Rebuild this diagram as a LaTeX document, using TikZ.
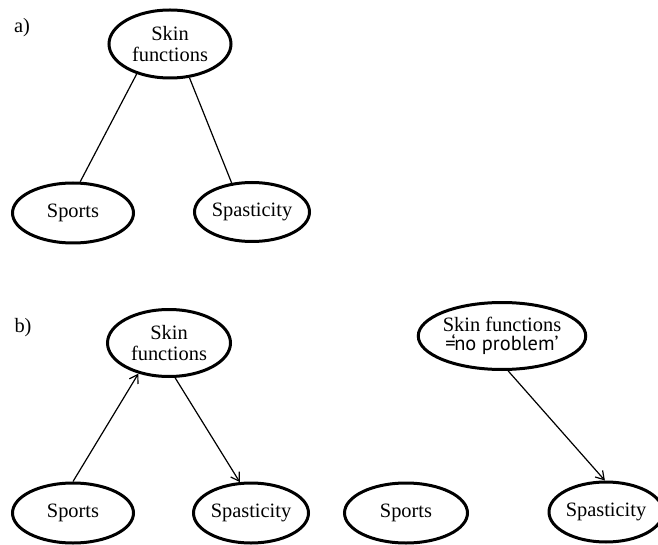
\documentclass[tikz,border=0pt]{standalone}
\usepackage{fontspec}
\setmainfont{Liberation Serif}
\newfontfamily\probfont{PT Sans}
\usetikzlibrary{shapes.geometric,arrows.meta}

\begin{document}
\begin{tikzpicture}[x=0.5pt,y=-0.5pt,
  every node/.style={font=\fontsize{10.2}{10.2}\selectfont},
  topic/.style={ellipse,draw,line width=1.5pt,inner sep=0pt,align=center},
  >={Straight Barb[length=4pt,width=5pt]}, line width=0.6pt]
\useasboundingbox (0,0) rectangle (658,545);
\node (LabA) at (22,28) {a)};
\node (LabB) at (23,328) {b)};
\node[topic,minimum width=61pt,minimum height=34pt] (SkinA) at (170,44) {Skin\\functions};
\node[topic,minimum width=60.5pt,minimum height=30pt] (SportsA) at (73,213) {Sports};
\node[topic,minimum width=57.5pt,minimum height=29.5pt] (SpastA) at (252,212) {Spasticity};
\node[topic,minimum width=61.5pt,minimum height=33.5pt] (SkinB) at (169,343) {Skin\\functions};
\node[topic,minimum width=60.5pt,minimum height=30pt] (SportsB) at (73,513) {Sports};
\node[topic,minimum width=57.5pt,minimum height=30pt] (SpastB) at (251,513) {Spasticity};
\node[topic,minimum width=75pt,minimum height=33.5pt] (SkinC) at (502,336) {Skin functions\\[-1pt]{\probfont =\kern-0.2em‘no problem’}};
\node[topic,minimum width=61.5pt,minimum height=30pt] (SportsC) at (406,513) {Sports};
\node[topic,minimum width=57pt,minimum height=30pt] (SpastC) at (606,512) {Spasticity};
\draw (SkinA.222) -- (SportsA.77);
\draw (SkinA.300) -- (SpastA.125);
\draw[->] (SportsB.north) -- (SkinB.225);
\draw[->] (SkinB.280) -- (SpastB.110);
\draw[->] (SkinC.280) -- (SpastC.92);
\end{tikzpicture}
\end{document}
